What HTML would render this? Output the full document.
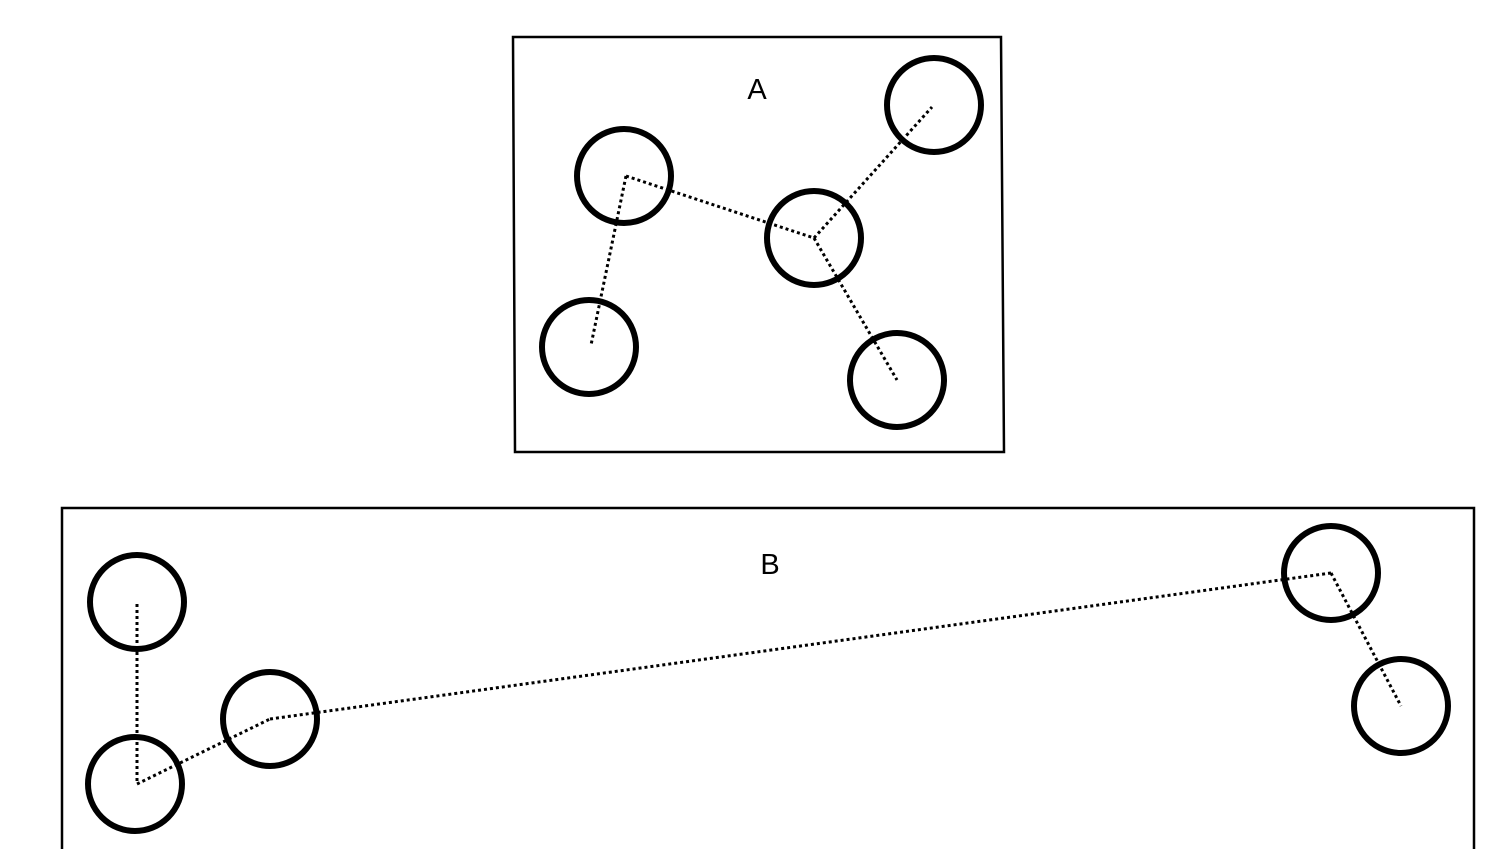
<!DOCTYPE html>
<html><head><style>
html,body{margin:0;padding:0;background:#fff;width:1509px;height:849px;overflow:hidden}
</style></head><body>
<svg width="1509" height="849" viewBox="0 0 1509 849" xmlns="http://www.w3.org/2000/svg">
<g fill="none" stroke="#000">
<polygon points="513,37 1001,37 1004,452 515,452" stroke-width="2.5"/>
<polyline points="62,849 62,508 1474,508 1474,849" stroke-width="2.5"/>
<g stroke-width="3" stroke-dasharray="3,3">
<line x1="626" y1="176" x2="814" y2="238"/>
<line x1="626" y1="176" x2="591" y2="345"/>
<line x1="814" y1="238" x2="932" y2="107"/>
<line x1="814" y1="238" x2="897" y2="380"/>
<line x1="137" y1="604" x2="137" y2="784"/>
<line x1="137" y1="784" x2="270" y2="719"/>
<line x1="270" y1="719" x2="1331" y2="573"/>
<line x1="1331" y1="573" x2="1401" y2="706"/>
</g>
<g stroke-width="6">
<circle cx="624" cy="176" r="47"/>
<circle cx="934" cy="105" r="47"/>
<circle cx="814" cy="238" r="47"/>
<circle cx="589" cy="347" r="47"/>
<circle cx="897" cy="380" r="47"/>
<circle cx="137" cy="602" r="47"/>
<circle cx="270" cy="719" r="47"/>
<circle cx="135" cy="784" r="47"/>
<circle cx="1331" cy="573" r="47"/>
<circle cx="1401" cy="706" r="47"/>
</g>
</g>
<text x="757" y="99" font-family="Liberation Sans, sans-serif" font-size="29" text-anchor="middle">A</text>
<text x="770" y="574" font-family="Liberation Sans, sans-serif" font-size="29" text-anchor="middle">B</text>
</svg>
</body></html>
